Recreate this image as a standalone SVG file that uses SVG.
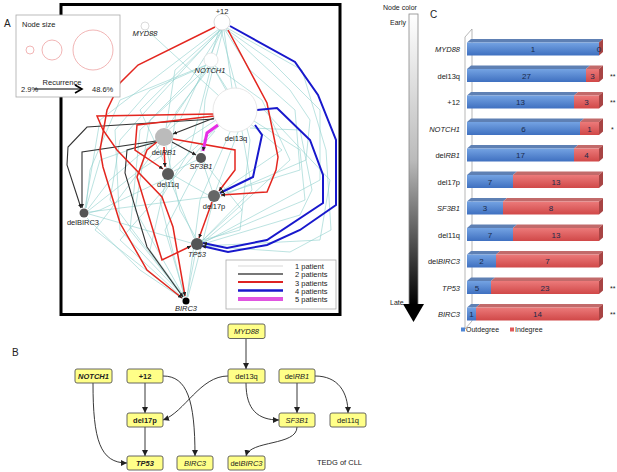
<svg xmlns="http://www.w3.org/2000/svg" width="617" height="472" viewBox="0 0 617 472">
<defs>
<style>
text{font-family:"Liberation Sans",Arial,sans-serif;fill:#222}
.c{fill:none;stroke:#8fd0cc;stroke-width:0.6}
.k{fill:none;stroke:#333;stroke-width:1.1;marker-end:url(#ah)}
.r{fill:none;stroke:#e3261f;stroke-width:1.5;marker-end:url(#ah)}
.b{fill:none;stroke:#1818cc;stroke-width:2;marker-end:url(#ah)}
.m{fill:none;stroke:#e62ee6;stroke-width:3;marker-end:url(#ah)}
.lbl{font-size:7.5px;text-anchor:middle}
.it{font-style:italic}
.bx{fill:#ffff88;stroke:#555;stroke-width:0.9}
.be{fill:none;stroke:#222;stroke-width:0.9;marker-end:url(#bh)}
.bt{font-size:7.5px;text-anchor:middle}
.rl{font-size:7.5px;text-anchor:end}
.num{font-size:8px;text-anchor:middle;fill:#1a2a4a}
.bf{fill:url(#gb)}
.rf{fill:url(#gr)}
.bt3{fill:#5e80b4}
.rt3{fill:#c26a6a}
.rs3{fill:#a84444}
</style>
<marker id="ah" viewBox="0 0 6 6" refX="6" refY="3" markerWidth="4" markerHeight="4" markerUnits="userSpaceOnUse" orient="auto"><path d="M0,0 L6,3 L0,6 z" fill="#222"/></marker>
<marker id="bh" viewBox="0 0 6 6" refX="6" refY="3" markerWidth="6" markerHeight="6" markerUnits="userSpaceOnUse" orient="auto"><path d="M0,0 L6,3 L0,6 z" fill="#222"/></marker>
<linearGradient id="gb" x1="0" y1="0" x2="0" y2="1"><stop offset="0" stop-color="#74a3e3"/><stop offset="1" stop-color="#3f70c0"/></linearGradient>
<linearGradient id="gr" x1="0" y1="0" x2="0" y2="1"><stop offset="0" stop-color="#ec7a7a"/><stop offset="1" stop-color="#d04848"/></linearGradient>
<linearGradient id="gbar" x1="0" y1="0" x2="0" y2="1"><stop offset="0" stop-color="#ffffff"/><stop offset="0.5" stop-color="#bbbbbb"/><stop offset="1" stop-color="#000000"/></linearGradient>
</defs>
<rect width="617" height="472" fill="#fff"/>

<!-- Panel A -->
<text x="4" y="27" font-size="10">A</text>
<rect x="61" y="4.5" width="279" height="310" fill="none" stroke="#000" stroke-width="3"/>
<g id="connectors-A">
<path class="c" d="M220,30 L160,95 L120,140 L110,200 L183,297"/>
<path class="c" d="M222,30 L190,80 L150,120 L135,210 L184,297"/>
<path class="c" d="M224,30 L232,88"/>
<path class="c" d="M219,30 L212,53"/>
<path class="c" d="M225,30 L250,70 L295,110 L300,170 L219,195"/>
<path class="c" d="M226,29 L270,60 L320,110 L320,180 L203,243"/>
<path class="c" d="M220,30 L175,70 L166,128"/>
<path class="c" d="M223,30 L205,100 L201,152"/>
<path class="c" d="M221,30 L140,110 L167,168"/>
<path class="c" d="M219,29 L100,120 L85,208"/>
<path class="c" d="M147,30 L219,96"/>
<path class="c" d="M205,66 L150,90 L115,130 L120,230 L184,297"/>
<path class="c" d="M213,67 L226,90"/>
<path class="c" d="M206,65 L120,100 L90,170 L86,208"/>
<path class="c" d="M215,66 L262,100 L290,160 L202,241"/>
<path class="c" d="M208,67 L167,128"/>
<path class="c" d="M213,67 L248,122 L282,150 L219,193"/>
<path class="c" d="M210,67 L176,112 L169,168"/>
<path class="c" d="M220,125 L171,170"/>
<path class="c" d="M230,132 L200,200 L187,297"/>
<path class="c" d="M216,120 L140,170 L88,211"/>
<path class="c" d="M242,131 L252,190 L202,241"/>
<path class="c" d="M166,146 L180,210 L196,238"/>
<path class="c" d="M204,162 L242,210 L202,243"/>
<path class="c" d="M200,163 L165,230 L185,297"/>
<path class="c" d="M170,180 L194,238"/>
<path class="c" d="M166,180 L150,250 L184,297"/>
<path class="c" d="M213,202 L188,297"/>
<path class="c" d="M87,218 L140,270 L183,299"/>
<path class="c" d="M89,214 L191,243"/>
<path class="c" d="M196,250 L187,297"/>
<path class="c" d="M203,163 L212,190"/>
<path class="c" d="M173,175 L208,195"/>
<path class="c" d="M155,141 L100,160 L86,208"/>
<path class="c" d="M250,128 L300,130 L312,190 L300,215 L203,244"/>
<path class="c" d="M238,132 L216,190"/>
<path class="c" d="M197,160 L174,171"/>
<path class="c" d="M208,197 L89,212"/>
<path class="c" d="M227,28 L302,70 L326,150 L331,230 L290,252 L203,246"/>
<path class="c" d="M226,30 L290,90 L310,120 L306,160 L220,197"/>
<path class="c" d="M254,121 L300,150 L305,200 L203,242"/>
<path class="c" d="M209,66 L140,130 L130,230 L170,280 L184,297"/>
<path class="c" d="M211,67 L200,110 L190,150 L160,200 L184,296"/>
<path class="c" d="M222,30 L180,120 L110,180 L88,209"/>
<path class="c" d="M221,30 L250,140 L240,230 L199,241"/>
<path class="c" d="M215,131 L120,240 L183,298"/>
<path class="c" d="M172,176 L100,210 L89,213"/>
<path class="c" d="M160,144 L95,230 L183,299"/>
<path class="c" d="M264,110 L330,180 L320,240 L203,246"/>
</g>
<g id="connectors-A-strong">
<path class="k" d="M214,119 L87,127 L68,147 L67,165 L81,208"/>
<path class="k" d="M156,141 L82,152 L82,208"/>
<path class="k" d="M157,142 L127,150 L125,173 L147,247 L183,297"/>
<path class="k" d="M214,118 L173,134"/>
<path class="k" d="M172,142 L196,155"/>
<path class="r" d="M215,27 L138,65 L120,83 L107,110 L100,150 L103,167 L120,223 L147,270 L182,298"/>
<path class="r" d="M228,30 L267,103 L278,157 L276,170 L267,192 L221,195"/>
<path class="r" d="M214,116 L137,125 L135,150 L163,169"/>
<path class="r" d="M173,139 L235,150 L235,170 L219,191"/>
<path class="r" d="M212,202 L199,238"/>
<path class="r" d="M157,142 L147,150 L137,177 L162,260 L191,246"/>
<path class="r" d="M214,114 L97,116 L103,130 L117,150 L162,197 L173,227 L185,296"/>
<path class="r" d="M164,147 L165,167"/>
<path class="b" d="M230,26 L295,62 L318,95 L336,140 L336,205 L300,230 L267,245 L228,252 L202,246"/>
<path class="b" d="M257,110 L277,108 L310,140 L323,175 L323,203 L267,240 L227,248 L203,243"/>
<path class="b" d="M255,125 L262,135 L253,177 L220,193"/>
<path class="m" d="M218,125 L207,133 L203,151"/>
</g>
<g id="node-plus12"><circle cx="222" cy="22" r="8" fill="#fff" stroke="#ccc" stroke-width="0.7"/><text class="lbl" x="222" y="14">+12</text></g>
<g id="node-MYD88-A"><circle cx="145" cy="26" r="4" fill="#fff" stroke="#ccc" stroke-width="0.7"/><text class="lbl it" x="145" y="36">MYD88</text></g>
<g id="node-NOTCH1-A"><circle cx="211" cy="60" r="7" fill="#fff" stroke="#ddd" stroke-width="0.7"/><text class="lbl it" x="210" y="73">NOTCH1</text></g>
<g id="node-del13q-A"><circle cx="235" cy="110" r="22" fill="#fff" stroke="#ddd" stroke-width="0.7"/><text class="lbl" x="236" y="141">del13q</text></g>
<g id="node-delRB1-A"><circle cx="164" cy="137" r="9" fill="#bbb"/><text class="lbl" x="164" y="155">del<tspan class="it">RB1</tspan></text></g>
<g id="node-SF3B1-A"><circle cx="201" cy="158" r="5" fill="#555"/><text class="lbl it" x="201" y="169">SF3B1</text></g>
<g id="node-del11q-A"><circle cx="168" cy="174" r="6" fill="#5a5a5a"/><text class="lbl" x="168" y="187">del11q</text></g>
<g id="node-del17p-A"><circle cx="214" cy="196" r="6" fill="#666"/><text class="lbl" x="214" y="209">del17p</text></g>
<g id="node-delBIRC3-A"><circle cx="84" cy="213" r="4.5" fill="#555"/><text class="lbl" x="83" y="225">delBIRC3</text></g>
<g id="node-TP53-A"><circle cx="197" cy="244" r="6" fill="#555"/><text class="lbl it" x="197" y="257">TP53</text></g>
<g id="node-BIRC3-A"><circle cx="186" cy="301" r="3.5" fill="#000"/><text class="lbl it" x="186" y="311">BIRC3</text></g>

<g id="legend-size">
<rect x="16" y="15" width="104" height="82" fill="#fff" stroke="#aaa" stroke-width="0.8"/>
<text x="22" y="27" font-size="7.5">Node size</text>
<circle cx="30" cy="50" r="4" fill="none" stroke="#f2b6b6" stroke-width="1"/>
<circle cx="52" cy="50" r="10" fill="none" stroke="#f2b6b6" stroke-width="1"/>
<circle cx="93" cy="50" r="20" fill="none" stroke="#f2b6b6" stroke-width="1"/>
<text x="62" y="85" font-size="7.5" text-anchor="middle">Recurrence</text>
<path d="M34,89 L80,89" stroke="#000" stroke-width="1.2" fill="none"/>
<path d="M75,85 L82,89 L75,93" stroke="#000" stroke-width="1.6" fill="none"/>
<text x="21" y="92" font-size="7.5">2.9%</text>
<text x="92" y="92" font-size="7.5">48.6%</text>
</g>
<g id="legend-edges">
<rect x="226" y="260" width="110" height="49" fill="#fff" stroke="#aaa" stroke-width="0.8"/>
<line x1="238" y1="266" x2="283" y2="266" stroke="#e4e4e4" stroke-width="1.5"/>
<line x1="238" y1="274" x2="283" y2="274" stroke="#777" stroke-width="2"/>
<line x1="238" y1="282" x2="283" y2="282" stroke="#d22" stroke-width="2"/>
<line x1="238" y1="290.5" x2="283" y2="290.5" stroke="#1818cc" stroke-width="2.5"/>
<line x1="238" y1="299" x2="283" y2="299" stroke="#e055e0" stroke-width="4"/>
<text x="295" y="268.5" font-size="7.5">1 patient</text>
<text x="295" y="277" font-size="7.5">2 patients</text>
<text x="295" y="285.5" font-size="7.5">3 patients</text>
<text x="295" y="293.5" font-size="7.5">4 patients</text>
<text x="295" y="302" font-size="7.5">5 patients</text>
</g>

<!-- Panel B -->
<text x="12" y="356" font-size="10">B</text>
<g id="connectors-B">
<path class="be" d="M246,339 L246,369"/>
<path class="be" d="M145,383 L145,413"/>
<path class="be" d="M145,427 L145,456"/>
<path class="be" d="M93,383 C93,440 100,463 127,463"/>
<path class="be" d="M163,376 C187,376 195,400 195,456"/>
<path class="be" d="M228,376 C200,376 185,412 163,420"/>
<path class="be" d="M246,383 C246,410 258,420 279,420"/>
<path class="be" d="M297,383 L297,413"/>
<path class="be" d="M315,376 C338,376 348,392 348,413"/>
<path class="be" d="M297,427 C297,446 250,440 246,456"/>
</g>
<g id="node-MYD88-B"><rect class="bx" x="228" y="324" width="37" height="14.5" rx="2"/><text class="bt it" x="246.5" y="334">MYD88</text></g>
<g id="node-NOTCH1-B"><rect class="bx" x="75" y="369" width="37" height="14" rx="2"/><text class="bt it" x="93.5" y="379" font-weight="bold">NOTCH1</text></g>
<g id="node-plus12-B"><rect class="bx" x="127" y="369" width="36" height="14" rx="2"/><text class="bt" x="145" y="379" font-weight="bold">+12</text></g>
<g id="node-del13q-B"><rect class="bx" x="228" y="369" width="37" height="14" rx="2"/><text class="bt" x="246.5" y="379">del13q</text></g>
<g id="node-delRB1-B"><rect class="bx" x="279" y="369" width="36" height="14" rx="2"/><text class="bt" x="297" y="379">del<tspan class="it">RB1</tspan></text></g>
<g id="node-del17p-B"><rect class="bx" x="127" y="413" width="36" height="14" rx="2"/><text class="bt" x="145" y="423" font-weight="bold">del17p</text></g>
<g id="node-SF3B1-B"><rect class="bx" x="279" y="413" width="36" height="14" rx="2"/><text class="bt it" x="297" y="423">SF3B1</text></g>
<g id="node-del11q-B"><rect class="bx" x="330" y="413" width="36" height="14" rx="2"/><text class="bt" x="348" y="423">del11q</text></g>
<g id="node-TP53-B"><rect class="bx" x="127" y="456" width="36" height="14" rx="2"/><text class="bt it" x="145" y="466" font-weight="bold">TP53</text></g>
<g id="node-BIRC3-B"><rect class="bx" x="177" y="456" width="36" height="14" rx="2"/><text class="bt it" x="195" y="466">BIRC3</text></g>
<g id="node-delBIRC3-B"><rect class="bx" x="228" y="456" width="37" height="14" rx="2"/><text class="bt" x="246.5" y="466">del<tspan class="it">BIRC3</tspan></text></g>
<text x="317" y="465" font-size="7.5">TEDG of CLL</text>

<!-- Panel C -->
<g id="color-scale">
<text x="383" y="10" font-size="7">Node color</text>
<text x="390" y="25" font-size="7">Early</text>
<text x="390" y="305" font-size="7">Late</text>
<rect x="409" y="14" width="9" height="291" fill="url(#gbar)" stroke="#888" stroke-width="0.8"/>
<path d="M403,304 L424,304 L413.5,322 z" fill="#000"/>
</g>
<text x="430" y="18" font-size="10">C</text>
<g id="chart">
<path d="M465,37 L472,29 L472,321 L465,329 z" fill="#fff" stroke="#999" stroke-width="0.7"/>
<g transform="translate(0,49)"><polygon class="bt3" points="467,-6.5 471,-10 603,-10 599,-6.5"/><rect class="bf" x="467" y="-6.5" width="132" height="13"/><polygon class="rs3" points="599,-6.5 603,-10 603,3 599,6.5"/><text class="num" x="533" y="3">1</text><text class="num" x="599" y="3">0</text><text class="rl it" x="460" y="3">MYD88</text></g>
<g transform="translate(0,75.5)"><polygon class="bt3" points="467,-6.5 471,-10 590,-10 586,-6.5"/><polygon class="rt3" points="586,-6.5 590,-10 603,-10 599,-6.5"/><rect class="bf" x="467" y="-6.5" width="119" height="13"/><rect class="rf" x="586" y="-6.5" width="13" height="13"/><polygon class="rs3" points="599,-6.5 603,-10 603,3 599,6.5"/><text class="num" x="526.5" y="3">27</text><text class="num" x="592.5" y="3">3</text><text class="rl" x="460" y="3">del13q</text><text x="610" y="3" font-size="7">**</text></g>
<g transform="translate(0,102)"><polygon class="bt3" points="467,-6.5 471,-10 578,-10 574,-6.5"/><polygon class="rt3" points="574,-6.5 578,-10 603,-10 599,-6.5"/><rect class="bf" x="467" y="-6.5" width="107" height="13"/><rect class="rf" x="574" y="-6.5" width="25" height="13"/><polygon class="rs3" points="599,-6.5 603,-10 603,3 599,6.5"/><text class="num" x="520.5" y="3">13</text><text class="num" x="586.5" y="3">3</text><text class="rl" x="460" y="3">+12</text><text x="610" y="3" font-size="7">**</text></g>
<g transform="translate(0,128.5)"><polygon class="bt3" points="467,-6.5 471,-10 584,-10 580,-6.5"/><polygon class="rt3" points="580,-6.5 584,-10 603,-10 599,-6.5"/><rect class="bf" x="467" y="-6.5" width="113" height="13"/><rect class="rf" x="580" y="-6.5" width="19" height="13"/><polygon class="rs3" points="599,-6.5 603,-10 603,3 599,6.5"/><text class="num" x="523.5" y="3">6</text><text class="num" x="589.5" y="3">1</text><text class="rl it" x="460" y="3">NOTCH1</text><text x="611" y="3" font-size="7">*</text></g>
<g transform="translate(0,155)"><polygon class="bt3" points="467,-6.5 471,-10 578,-10 574,-6.5"/><polygon class="rt3" points="574,-6.5 578,-10 603,-10 599,-6.5"/><rect class="bf" x="467" y="-6.5" width="107" height="13"/><rect class="rf" x="574" y="-6.5" width="25" height="13"/><polygon class="rs3" points="599,-6.5 603,-10 603,3 599,6.5"/><text class="num" x="520.5" y="3">17</text><text class="num" x="586.5" y="3">4</text><text class="rl" x="460" y="3">del<tspan class="it">RB1</tspan></text></g>
<g transform="translate(0,181.5)"><polygon class="bt3" points="467,-6.5 471,-10 517,-10 513,-6.5"/><polygon class="rt3" points="513,-6.5 517,-10 603,-10 599,-6.5"/><rect class="bf" x="467" y="-6.5" width="46" height="13"/><rect class="rf" x="513" y="-6.5" width="86" height="13"/><polygon class="rs3" points="599,-6.5 603,-10 603,3 599,6.5"/><text class="num" x="490" y="3">7</text><text class="num" x="556" y="3">13</text><text class="rl" x="460" y="3">del17p</text></g>
<g transform="translate(0,208)"><polygon class="bt3" points="467,-6.5 471,-10 507,-10 503,-6.5"/><polygon class="rt3" points="503,-6.5 507,-10 603,-10 599,-6.5"/><rect class="bf" x="467" y="-6.5" width="36" height="13"/><rect class="rf" x="503" y="-6.5" width="96" height="13"/><polygon class="rs3" points="599,-6.5 603,-10 603,3 599,6.5"/><text class="num" x="485" y="3">3</text><text class="num" x="551" y="3">8</text><text class="rl it" x="460" y="3">SF3B1</text></g>
<g transform="translate(0,234.5)"><polygon class="bt3" points="467,-6.5 471,-10 517,-10 513,-6.5"/><polygon class="rt3" points="513,-6.5 517,-10 603,-10 599,-6.5"/><rect class="bf" x="467" y="-6.5" width="46" height="13"/><rect class="rf" x="513" y="-6.5" width="86" height="13"/><polygon class="rs3" points="599,-6.5 603,-10 603,3 599,6.5"/><text class="num" x="490" y="3">7</text><text class="num" x="556" y="3">13</text><text class="rl" x="460" y="3">del11q</text></g>
<g transform="translate(0,261)"><polygon class="bt3" points="467,-6.5 471,-10 500,-10 496,-6.5"/><polygon class="rt3" points="496,-6.5 500,-10 603,-10 599,-6.5"/><rect class="bf" x="467" y="-6.5" width="29" height="13"/><rect class="rf" x="496" y="-6.5" width="103" height="13"/><polygon class="rs3" points="599,-6.5 603,-10 603,3 599,6.5"/><text class="num" x="481.5" y="3">2</text><text class="num" x="547.5" y="3">7</text><text class="rl" x="460" y="3">del<tspan class="it">BIRC3</tspan></text></g>
<g transform="translate(0,287.5)"><polygon class="bt3" points="467,-6.5 471,-10 495,-10 491,-6.5"/><polygon class="rt3" points="491,-6.5 495,-10 603,-10 599,-6.5"/><rect class="bf" x="467" y="-6.5" width="24" height="13"/><rect class="rf" x="491" y="-6.5" width="108" height="13"/><polygon class="rs3" points="599,-6.5 603,-10 603,3 599,6.5"/><text class="num" x="477" y="3">5</text><text class="num" x="545" y="3">23</text><text class="rl it" x="460" y="3">TP53</text><text x="610" y="3" font-size="7">**</text></g>
<g transform="translate(0,314)"><polygon class="bt3" points="467,-6.5 471,-10 480,-10 476,-6.5"/><polygon class="rt3" points="476,-6.5 480,-10 603,-10 599,-6.5"/><rect class="bf" x="467" y="-6.5" width="9" height="13"/><rect class="rf" x="476" y="-6.5" width="123" height="13"/><polygon class="rs3" points="599,-6.5 603,-10 603,3 599,6.5"/><text class="num" x="471.5" y="3">1</text><text class="num" x="537.5" y="3">14</text><text class="rl it" x="460" y="3">BIRC3</text><text x="610" y="3" font-size="7">**</text></g>
</g>
<g id="chart-legend">
<rect x="461" y="327.5" width="4" height="4" fill="#4f86d6"/>
<text x="466" y="332" font-size="7" fill="#4a6fb0">Outdegree</text>
<rect x="510" y="327.5" width="4" height="4" fill="#e05a5a"/>
<text x="515" y="332" font-size="7" fill="#e08a8a">Indegree</text>
</g>
</svg>
